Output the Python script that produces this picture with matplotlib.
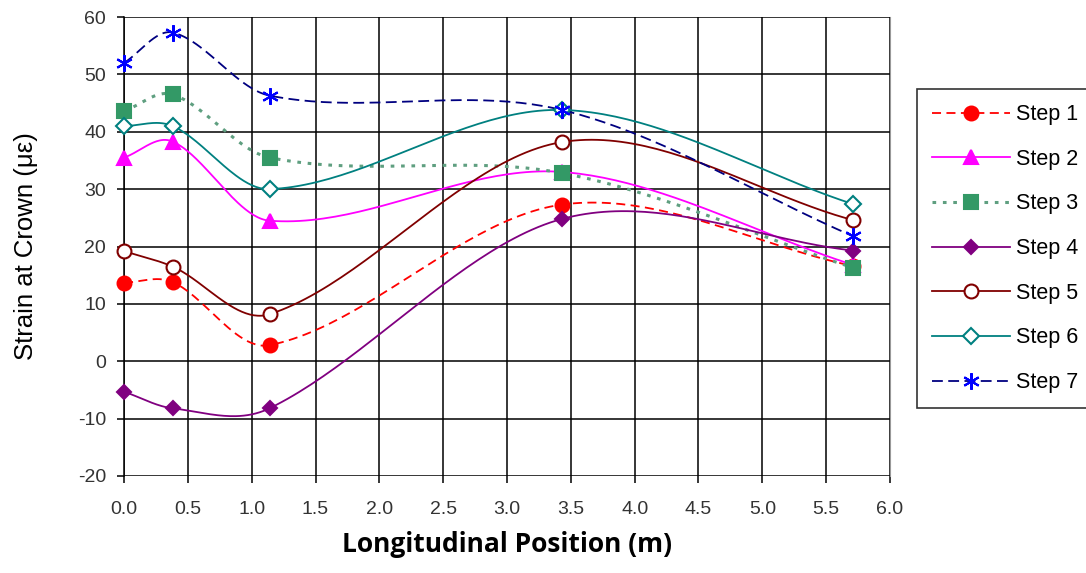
import numpy as np
import matplotlib
matplotlib.use("Agg")
import matplotlib.pyplot as plt

# data
pos = [0.0, 0.38, 1.14, 3.43, 5.71]
step1 = [13.7, 13.8, 2.8, 27.3, 16.6]
step2 = [35.5, 38.3, 24.5, 33.0, 16.8]
step3 = [43.6, 46.5, 35.5, 32.8, 16.3]
step4 = [-5.3, -8.2, -8.2, 24.8, 19.3]
step5 = [19.2, 16.5, 8.2, 38.2, 24.6]
step6 = [41.0, 41.0, 30.0, 43.8, 27.4]
step7 = [52.0, 57.3, 46.3, 43.8, 21.8]
labels = ['Step 1', 'Step 2', 'Step 3', 'Step 4', 'Step 5', 'Step 6', 'Step 7']


def smooth(x, y, n=50):
    """smoothed line through the points (bezier, tangents scaled by x spacing)"""
    x = np.asarray(x, float)
    y = np.asarray(y, float)
    P = np.column_stack([x, y])
    P = np.vstack([P[0], P, P[-1]])
    out = []
    t = np.linspace(0, 1, n)[:, None]
    for i in range(1, len(P) - 2):
        p0, p1, p2, p3 = P[i - 1], P[i], P[i + 1], P[i + 2]
        d01 = p1[0] - p0[0]
        d12 = p2[0] - p1[0]
        d23 = p3[0] - p2[0]
        c1 = p1 + (p2 - p0) / (d01 + d12) * d12 / 3
        c2 = p2 - (p3 - p1) / (d12 + d23) * d12 / 3
        seg = ((1 - t) ** 3) * p1 + 3 * ((1 - t) ** 2) * t * c1 + 3 * (1 - t) * t ** 2 * c2 + t ** 3 * p2
        out.append(seg if i == 1 else seg[1:])
    out = np.vstack(out)
    return out[:, 0], out[:, 1]


styles = [
    dict(color='#FF0000', ls=(0, (5, 3)), marker='o', mfc='#FF0000', mec='#FF0000', ms=10),
    dict(color='#FF00FF', ls='-', marker='^', mfc='#FF00FF', mec='#FF00FF', ms=10),
    dict(color='#5F9F80', ls=(0, (1.2, 2.2)), marker='s', mfc='#339966', mec='#339966', ms=10.5, lw=2.2),
    dict(color='#800080', ls='-', marker='D', mfc='#800080', mec='#800080', ms=7),
    dict(color='#800000', ls='-', marker='o', mfc='white', mec='#800000', ms=10),
    dict(color='#008080', ls='-', marker='D', mfc='white', mec='#008080', ms=8),
    dict(color='#000080', ls=(0, (6, 3)), marker=(6, 2, 0), mfc='#0000FF', mec='#0000FF', ms=12),
]

plt.rcParams['font.family'] = ['Liberation Sans', 'DejaVu Sans']
plt.rcParams['axes.unicode_minus'] = False
fig = plt.figure(figsize=(10.86, 5.73), dpi=100)
ax = fig.add_axes([0.1142, 0.1693, 0.7053, 0.801])

series = [step1, step2, step3, step4, step5, step6, step7]
handles = []
for ys, st, lab in zip(series, styles, labels):
    sx, sy = smooth(pos, ys)
    lw = st.get('lw', 1.3)
    ax.plot(sx, sy, color=st['color'], ls=st['ls'], lw=lw, zorder=3, clip_on=False)
    ax.plot(pos, ys, ls='none', marker=st['marker'], ms=st['ms'], mfc=st['mfc'],
            mec=st['mec'], mew=1.5, zorder=4, clip_on=False)
    h, = ax.plot([], [], color=st['color'], ls=st['ls'], lw=lw, marker=st['marker'],
                 ms=st['ms'], mfc=st['mfc'], mec=st['mec'], mew=1.5, label=lab)
    handles.append(h)

ax.set_xlim(0, 6.0)
ax.set_ylim(-20, 60)
ax.set_xticks(np.arange(0, 6.01, 0.5))
ax.set_xticklabels(['%.1f' % v for v in np.arange(0, 6.01, 0.5)])
ax.set_yticks(np.arange(-20, 61, 10))
ax.grid(True, color='black', lw=1.1)
ax.set_axisbelow(True)
for s in ['top', 'bottom']:
    ax.spines[s].set_visible(False)
ax.spines['left'].set_linewidth(1.1)
ax.spines['right'].set_color('#999999')
ax.tick_params(axis='both', colors='black', labelcolor='#333333', labelsize=14,
               length=5, width=1.1)
ax.tick_params(axis='x', pad=13)
ax.tick_params(axis='y', pad=8)

ax.set_ylabel('Strain at Crown (\u03bc\u03b5)', fontsize=18.5, va='center')
ax.yaxis.set_label_coords(-0.128, 0.5)
ax.set_xlabel('Longitudinal Position (m)', fontsize=19, fontweight='bold',
              family=['Open Sans', 'DejaVu Sans'], va='center')
ax.xaxis.set_label_coords(0.5, -0.15)

leg = fig.legend(handles=handles, loc='upper left', bbox_to_anchor=(0.8444, 0.8447),
                 frameon=True, fancybox=False, edgecolor='black', fontsize=15.5,
                 handlelength=3.6, handletextpad=0.3, labelspacing=1.1, borderpad=0.7,
                 borderaxespad=0)
leg.get_frame().set_linewidth(1.2)

fig.savefig('out.png', dpi=100)
